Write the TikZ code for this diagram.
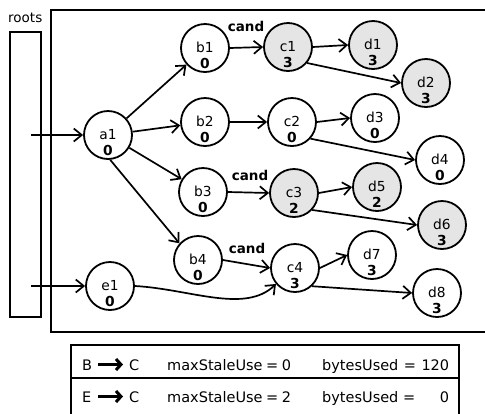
\documentclass[tikz,border=0pt]{standalone}
\usepackage{fontspec}
\setmainfont{DejaVu Sans}
\usetikzlibrary{arrows.meta}
\newcommand\graphnode[6]{%
  \node[gn,#6] (#1) at (#2,#3) {};
  \node[ntext,anchor=base] (#1n) at (#2,#3+4) {#4};
  \node[ntext,anchor=base] (#1v) at (#2,#3+20.5) {\textbf{#5}};
}
\begin{document}
\begin{tikzpicture}[x=1pt,y=-1pt,
  gn/.style={circle,draw=black,line width=1.8pt,minimum size=48pt,inner sep=0pt,fill=white},
  hot/.style={fill=black!10},
  ntext/.style={inner sep=0pt,font=\fontsize{13.8pt}{16pt}\selectfont},
  ttext/.style={inner sep=0pt,anchor=base west,font=\fontsize{13.5pt}{16pt}\selectfont},
  tabtext/.style={inner sep=0pt,anchor=base west,font=\fontsize{14.5pt}{16pt}\selectfont},
  cand/.style={inner sep=0pt,font=\fontsize{13.5pt}{16pt}\selectfont\bfseries},
  edge/.style={line width=1.7pt,-{Straight Barb[length=8pt,width=13pt,line width=1.7pt]}},
  frame/.style={line width=2pt},
  tarrow/.style={line width=3pt,-{Straight Barb[length=5pt,width=11pt,line width=3pt]}}
]
\useasboundingbox (0,0) rectangle (485,413);
% frames
\draw[frame] (10,32) rectangle (41,317);
\draw[frame] (485,9.5) -- (50.5,9.5) -- (50.5,331.5) -- (485,331.5);
\node[ttext] (roots) at (8,22) {roots};
% nodes
\graphnode{a1}{108}{135}{a1}{0}{}
\graphnode{e1}{110}{286}{e1}{0}{}
\graphnode{b1}{205}{48}{b1}{0}{}
\graphnode{b2}{205}{122}{b2}{0}{}
\graphnode{b3}{203}{192}{b3}{0}{}
\graphnode{b4}{198}{260}{b4}{0}{}
\graphnode{c1}{288}{47}{c1}{3}{hot}
\graphnode{c2}{292}{122}{c2}{0}{}
\graphnode{c3}{294}{193}{c3}{2}{hot}
\graphnode{c4}{295}{268}{c4}{3}{}
\graphnode{d1}{373}{45}{d1}{3}{hot}
\graphnode{d2}{426}{83}{d2}{3}{hot}
\graphnode{d3}{375}{118}{d3}{0}{}
\graphnode{d4}{440}{160}{d4}{0}{}
\graphnode{d5}{377}{187}{d5}{2}{hot}
\graphnode{d6}{442}{225}{d6}{3}{hot}
\graphnode{d7}{372}{255}{d7}{3}{}
\graphnode{d8}{437}{293}{d8}{3}{}
% root entry points
\coordinate (r1) at (31,135);
\coordinate (r2) at (31,286);
\draw[edge] (r1) -- (a1.west);
\draw[edge] (r2) -- (e1.west);
% edges
\draw[edge] (a1) -- (b1);
\draw[edge] (a1) -- (b2);
\draw[edge] (a1) -- (b3);
\draw[edge] (a1.-85) -- (b4.138);
\draw[edge] (b1.east) -- (c1.west);
\draw[edge] (b2.east) -- (c2.west);
\draw[edge] (b3.east) -- (c3.west);
\draw[edge] (b4.east) -- (c4.west);
\draw[edge] (c1.east) -- (d1.west);
\draw[edge] (c1.-40) -- (d2.west);
\draw[edge] (c2.east) -- (d3.west);
\draw[edge] (c2.-42) -- (d4.west);
\draw[edge] (c3.east) -- (d5.west);
\draw[edge] (c3.-43) -- (d6.west);
\draw[edge] (c4.east) -- (d7.west);
\draw[edge] (c4.-47) -- (d8.west);
\draw[edge] (e1.east) .. controls (190,289) and (245,314) .. (c4.220);
% cand labels
\node[cand] (k1) at (246,26) {cand};
\node[cand] (k2) at (250,175) {cand};
\node[cand] (k3) at (247,248) {cand};
% table
\draw[frame] (71,345) rectangle (459,378);
\draw[frame] (71,378) -- (71,414);
\draw[frame] (459,378) -- (459,414);
\node[tabtext] (tB) at (82,370) {B};
\coordinate (ta1) at (98,364.5);
\coordinate (tb1) at (123,364.5);
\draw[tarrow] (ta1) -- (tb1);
\node[tabtext] (tC1) at (129,370) {C};
\node[tabtext] (tm1) at (167,370) {\makebox[124pt][s]{maxStaleUse = 0}};
\node[tabtext] (tu1) at (322,370) {\makebox[127pt][s]{bytesUsed = 120}};
\node[tabtext] (tE) at (82,402) {E};
\coordinate (ta2) at (98,396.5);
\coordinate (tb2) at (123,396.5);
\draw[tarrow] (ta2) -- (tb2);
\node[tabtext] (tC2) at (129,402) {C};
\node[tabtext] (tm2) at (167,402) {\makebox[124pt][s]{maxStaleUse = 2}};
\node[tabtext] (tu2) at (322,402) {\makebox[127pt][l]{bytesUsed =\hfill 0}};
\end{tikzpicture}
\end{document}
